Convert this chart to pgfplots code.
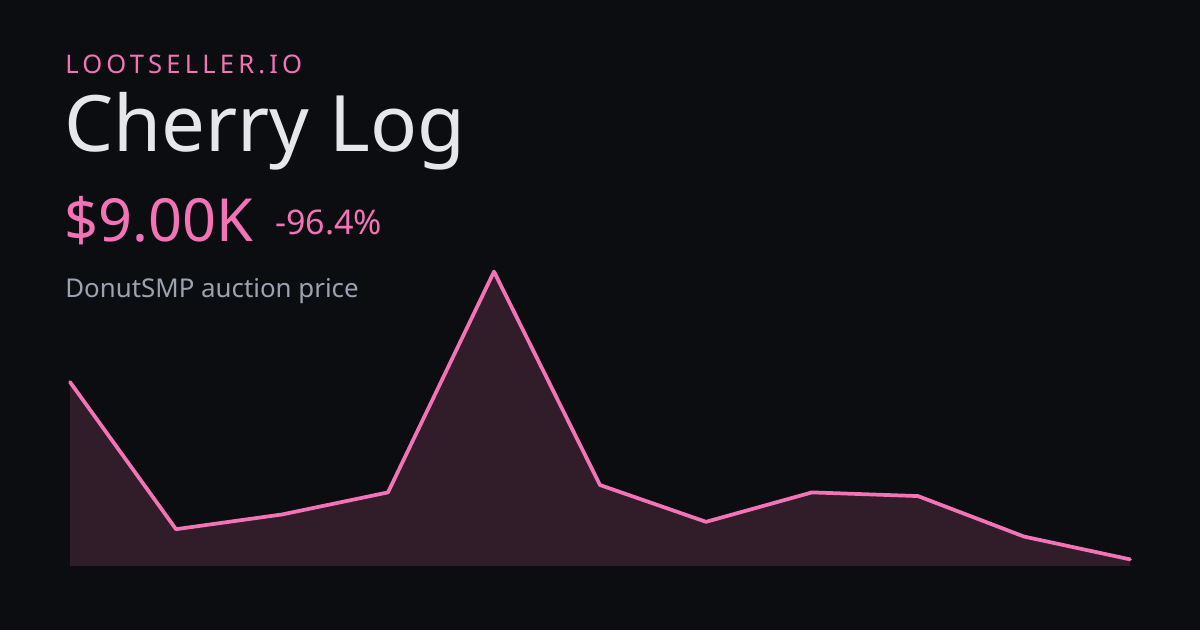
\documentclass[border=0pt]{standalone}
\usepackage{pgfplots}
\pgfplotsset{compat=1.18}
\usepackage{fontspec}
\setmainfont{Noto Sans}
\newfontfamily\spaced[LetterSpace=16.2]{Noto Sans}
\definecolor{bg}{HTML}{0C0D10}
\definecolor{pink}{HTML}{F472B6}
\definecolor{title}{HTML}{E5E7EB}
\definecolor{sub}{HTML}{9CA3AF}
\pgfplotstableread{
x y
0 250
1 50
2 70
3 100
4 400
5 110
6 60
7 100
8 95
9 40
10 9
}\pricedata
\begin{document}
\begin{tikzpicture}[x=0.75pt,y=0.75pt]
\fill[bg] (0,0) rectangle (1200,630);
\node[anchor=base west,inner sep=0,text=pink] at (65,556.7) {\fontsize{19.2}{22}\selectfont\spaced LOOTSELLER.IO};
\node[anchor=base west,inner sep=0,text=title] at (64,478.3) {\fontsize{58.4}{66}\selectfont Cherry Log};
\node[anchor=base west,inner sep=0,text=pink] at (64,388.3) {\fontsize{44.6}{50}\selectfont \$9.00K};
\node[anchor=base west,inner sep=0,text=pink] at (275,395.7) {\fontsize{25.5}{30}\selectfont -96.4\%};
\node[anchor=base west,inner sep=0,text=sub] at (65,332.7) {\fontsize{19.4}{24}\selectfont DonutSMP auction price};
\begin{axis}[
  at={(52.5pt,48pt)}, anchor=origin,
  scale only axis, width=795pt, height=220.8pt,
  xmin=0, xmax=10, ymin=0, ymax=400,
  axis lines=none, clip=false,
]
\addplot[draw=none, fill=pink, fill opacity=0.16] table[x=x,y=y] {\pricedata} \closedcycle;
\addplot[pink, line width=2.8pt, line join=round, line cap=round] table[x=x,y=y] {\pricedata};
\end{axis}
\end{tikzpicture}
\end{document}
